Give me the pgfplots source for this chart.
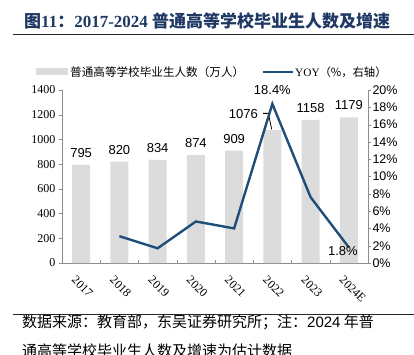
\documentclass[border=0pt]{standalone}
\usepackage{fontspec}
\setmainfont{Liberation Serif}
\newfontfamily\cjk{Noto Sans CJK SC}
\newfontfamily\arial{Liberation Sans}
\usepackage{pgfplots}
\pgfplotsset{compat=1.18}
\definecolor{barg}{HTML}{DCDCDC}
\definecolor{yoyb}{HTML}{1F4E79}
\definecolor{titleb}{HTML}{1F3864}
\definecolor{axg}{HTML}{8C8C8C}
\begin{document}
\begin{tikzpicture}
\path[use as bounding box] (0pt,0pt) rectangle (414pt,354pt);
% title
\node[anchor=west, text=titleb, font=\bfseries\fontsize{17}{17}\selectfont, inner sep=0pt] at (24pt,333pt)
  {{\cjk\bfseries 图}11{\cjk\bfseries ：}2017-2024 {\cjk\bfseries 普通高等学校毕业生人数及增速}};
\draw[line width=1.4pt, black!85] (13pt,319.5pt) -- (414pt,319.5pt);
% legend
\fill[barg] (36pt,278.5pt) rectangle (68pt,285.5pt);
\node[anchor=west, inner sep=0pt, font=\cjk\fontsize{11.6}{11.6}\selectfont] at (70pt,282pt) {普通高等学校毕业生人数（万人）};
\draw[yoyb, line width=2.2pt] (263pt,282pt) -- (293pt,282pt);
\node[anchor=west, inner sep=0pt, font=\fontsize{11.3}{11.3}\selectfont] at (295pt,282pt) {YOY{\cjk （\%，右轴）}};
% bars axis
\begin{axis}[
  at={(62pt,91pt)}, anchor=south west, scale only axis,
  width=306pt, height=173pt,
  xmin=-0.5, xmax=7.5, ymin=0, ymax=1400,
  ytick={0,200,...,1400},
  xtick={0,...,7},
  xticklabels={2017,2018,2019,2020,2021,2022,2023,2024E},
  major x tick style={draw=none},
  minor xtick={0.5,1.5,...,6.5},
  minor x tick style={axg, yshift=3pt},
  minor tick length=3pt,
  axis x line*=bottom, axis y line*=left,
  axis line style={axg, line width=0.8pt},
  y tick style={axg}, tick align=outside, major tick length=3pt,
  x tick label style={rotate=-45, anchor=north west, font=\fontsize{12}{12}\selectfont, xshift=0pt, yshift=-6pt},
  y tick label style={font=\fontsize{12}{12}\selectfont},
  /pgf/number format/assume math mode=true,
  /pgf/number format/1000 sep={},
  clip=false,
]
\addplot[ybar, bar width=18pt, fill=barg, draw=none] coordinates {
  (0,795) (1,820) (2,834) (3,874) (4,909) (5,1076) (6,1158) (7,1179)};
\addplot[draw=none, nodes near coords, point meta=y,
  every node near coord/.append style={font=\arial\fontsize{13}{13}\selectfont, anchor=south, yshift=4pt, /pgf/number format/1000 sep={}}]
  coordinates {(0,795) (1,820) (2,834) (3,874) (4,909) (6,1158) (7,1179)};
\addplot[draw=none, nodes near coords, point meta=y,
  every node near coord/.append style={font=\arial\fontsize{13}{13}\selectfont, anchor=center, yshift=16pt, /pgf/number format/1000 sep={}}]
  coordinates {(4.24,1076)};
\draw[black, line width=0.8pt] (axis cs:4.755,1211) -- (axis cs:4.894,1211) -- (axis cs:4.982,1082);
\end{axis}
% line axis
\begin{axis}[
  at={(62pt,91pt)}, anchor=south west, scale only axis,
  width=306pt, height=173pt,
  xmin=-0.5, xmax=7.5, ymin=0, ymax=20,
  ytick={0,2,...,20},
  yticklabel={\pgfmathprintnumber{\tick}\%},
  axis x line=none, axis y line*=right,
  axis line style={axg, line width=0.8pt},
  y tick style={axg}, tick align=outside, major tick length=3pt,
  y tick label style={font=\arial\fontsize{12.5}{12.5}\selectfont, xshift=-2pt},
  /pgf/number format/assume math mode=true,
  clip=false,
]
\addplot[yoyb, line width=2.4pt, mark=none] coordinates {
  (1,3.1) (2,1.7) (3,4.8) (4,4.0) (5,18.4) (6,7.6) (7,1.8)};
\addplot[draw=none, nodes near coords={\pgfmathprintnumber[fixed,precision=1,fixed zerofill]{\pgfplotspointmeta}\%}, point meta=y,
  every node near coord/.append style={font=\arial\fontsize{13}{13}\selectfont, anchor=south, yshift=6pt}]
  coordinates {(5,18.4)};
\addplot[draw=none, nodes near coords={\pgfmathprintnumber[fixed,precision=1,fixed zerofill]{\pgfplotspointmeta}\%}, point meta=y,
  every node near coord/.append style={font=\arial\fontsize{13}{13}\selectfont, anchor=center, xshift=-6pt, yshift=-4pt}]
  coordinates {(7,1.8)};
\end{axis}
% bottom
\draw[line width=1.2pt, black!85] (13pt,39.7pt) -- (414pt,39.7pt);
\node[anchor=west, inner sep=0pt, font=\cjk\fontsize{15}{15}\selectfont] at (22pt,32pt)
  {数据来源：教育部，东吴证券研究所；注：{\arial 2024} 年普};
\node[anchor=west, inner sep=0pt, font=\cjk\fontsize{15}{15}\selectfont] at (22pt,3pt)
  {通高等学校毕业生人数及增速为估计数据};
\end{tikzpicture}
\end{document}
